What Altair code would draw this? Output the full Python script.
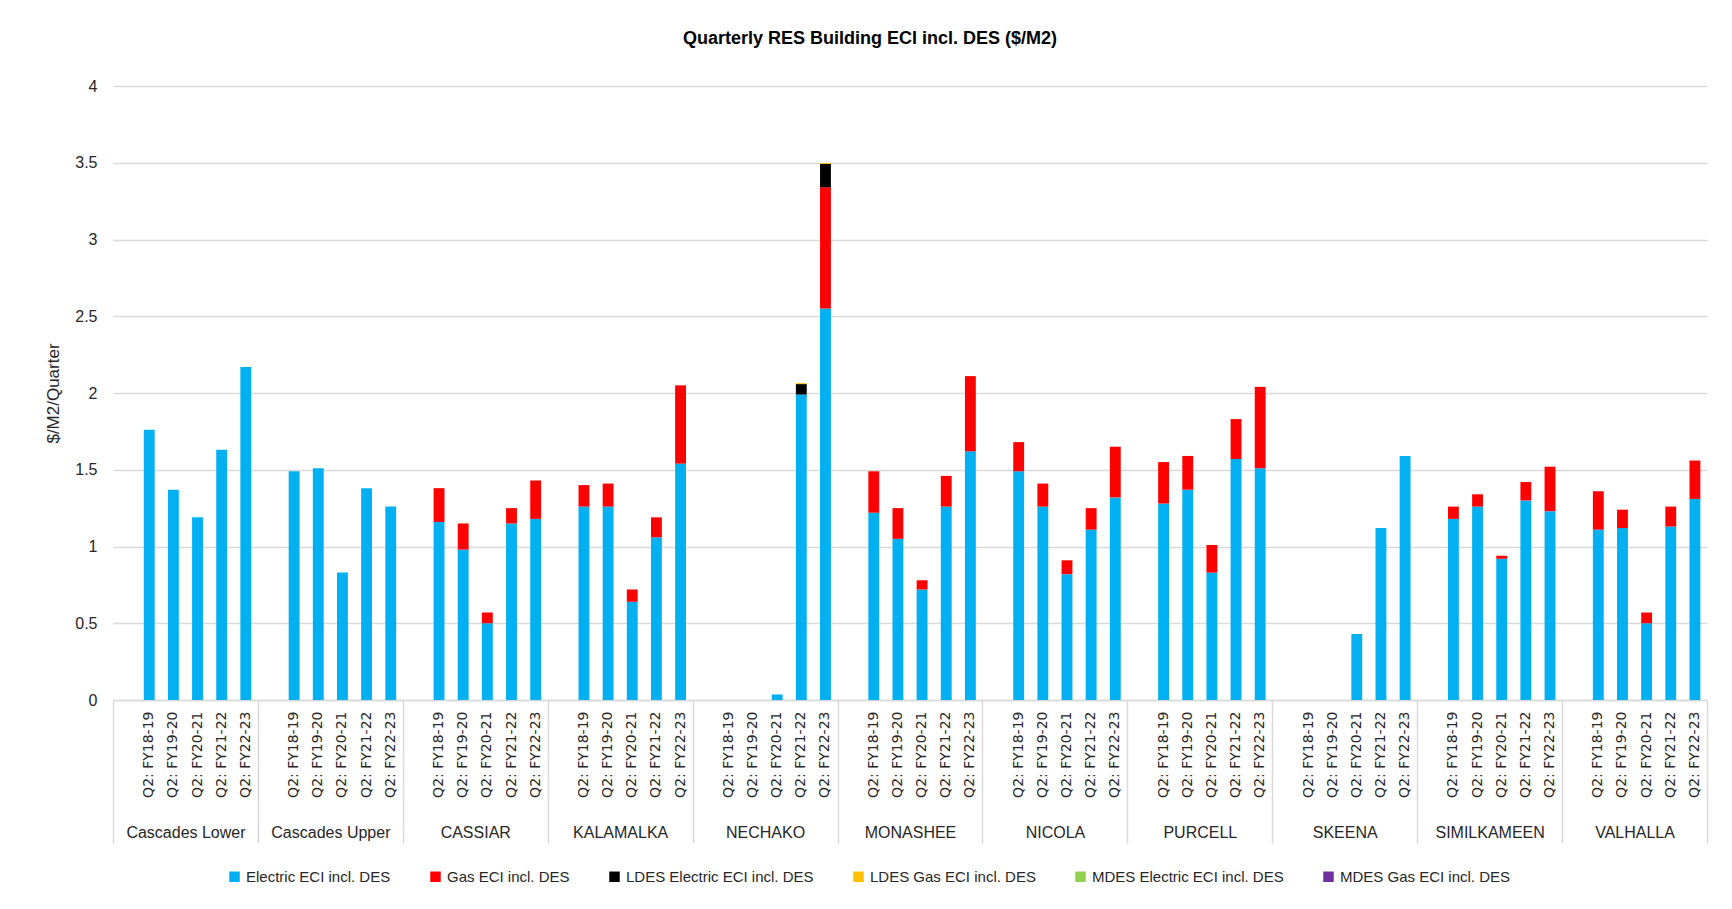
import altair as alt
import pandas as pd

groups = ["Cascades Lower", "Cascades Upper", "CASSIAR", "KALAMALKA", "NECHAKO",
          "MONASHEE", "NICOLA", "PURCELL", "SKEENA", "SIMILKAMEEN", "VALHALLA"]
quarters = ["Q2: FY18-19", "Q2: FY19-20", "Q2: FY20-21", "Q2: FY21-22", "Q2: FY22-23"]
series = ["Electric ECI incl. DES", "Gas ECI incl. DES", "LDES Electric ECI incl. DES",
          "LDES Gas ECI incl. DES", "MDES Electric ECI incl. DES", "MDES Gas ECI incl. DES"]
colors = ["#00B0F0", "#FF0000", "#000000", "#FFC000", "#92D050", "#7030A0"]

electric = {
    "Cascades Lower": [1.76, 1.37, 1.19, 1.63, 2.17],
    "Cascades Upper": [1.49, 1.51, 0.83, 1.38, 1.26],
    "CASSIAR":        [1.16, 0.98, 0.50, 1.15, 1.18],
    "KALAMALKA":      [1.26, 1.26, 0.64, 1.06, 1.54],
    "NECHAKO":        [0.0, 0.0, 0.036, 1.99, 2.55],
    "MONASHEE":       [1.22, 1.05, 0.72, 1.26, 1.62],
    "NICOLA":         [1.49, 1.26, 0.82, 1.11, 1.32],
    "PURCELL":        [1.28, 1.37, 0.83, 1.57, 1.51],
    "SKEENA":         [0.0, 0.0, 0.43, 1.12, 1.59],
    "SIMILKAMEEN":    [1.18, 1.26, 0.92, 1.30, 1.23],
    "VALHALLA":       [1.11, 1.12, 0.50, 1.13, 1.31],
}
gas = {
    "Cascades Lower": [0, 0, 0, 0, 0],
    "Cascades Upper": [0, 0, 0, 0, 0],
    "CASSIAR":        [0.22, 0.17, 0.07, 0.10, 0.25],
    "KALAMALKA":      [0.14, 0.15, 0.08, 0.13, 0.51],
    "NECHAKO":        [0, 0, 0, 0, 0.79],
    "MONASHEE":       [0.27, 0.20, 0.06, 0.20, 0.49],
    "NICOLA":         [0.19, 0.15, 0.09, 0.14, 0.33],
    "PURCELL":        [0.27, 0.22, 0.18, 0.26, 0.53],
    "SKEENA":         [0, 0, 0, 0, 0],
    "SIMILKAMEEN":    [0.08, 0.08, 0.02, 0.12, 0.29],
    "VALHALLA":       [0.25, 0.12, 0.07, 0.13, 0.25],
}
ldes_electric = {"NECHAKO": [0, 0, 0, 0.068, 0.152]}
ldes_gas = {"NECHAKO": [0, 0, 0, 0.006, 0.006]}
mdes_electric = {}
mdes_gas = {}

series_data = [electric, gas, ldes_electric, ldes_gas, mdes_electric, mdes_gas]

FONT = "Liberation Sans"
TXT = "#262626"
GRID = "#D9D9D9"

# x domain: one blank slot then the five quarters, per group
keys = []
for g in groups:
    keys.append(g + "|")
    for q in quarters:
        keys.append(g + "|" + q)

rows = []
for si, (s, d) in enumerate(zip(series, series_data)):
    for g in groups:
        vals = d.get(g, [0, 0, 0, 0, 0])
        for q, v in zip(quarters, vals):
            rows.append({"key": g + "|" + q, "group": g, "quarter": q,
                         "series": s, "order": si, "value": v})
df = pd.DataFrame(rows)

bars = alt.Chart(df).mark_bar(width={"band": 0.45}).encode(
    x=alt.X("key:N",
            scale=alt.Scale(domain=keys, paddingInner=0, paddingOuter=0),
            axis=alt.Axis(title=None, labelAngle=-90,
                          labelExpr="split(datum.value, '|')[1]",
                          labelFont="DejaVu Sans", labelFontSize=14, labelColor=TXT,
                          labelPadding=11, ticks=False,
                          domainColor=GRID, domainWidth=1.5, grid=False,
                          labelOverlap=False)),
    y=alt.Y("value:Q", stack="zero",
            scale=alt.Scale(domain=[0, 4]),
            axis=alt.Axis(title="$/M2/Quarter", values=[0, 0.5, 1, 1.5, 2, 2.5, 3, 3.5, 4],
                          format="~g", labelFont=FONT, labelFontSize=16, labelColor=TXT,
                          labelPadding=16, ticks=False, domain=False,
                          gridColor=GRID, gridWidth=1.5,
                          titleFont=FONT, titleFontSize=17, titleFontWeight="normal",
                          titleColor=TXT, titlePadding=12)),
    color=alt.Color("series:N",
                    scale=alt.Scale(domain=series, range=colors),
                    legend=alt.Legend(title=None, orient="none", legendX=114, legendY=783,
                                      direction="horizontal", columns=6,
                                      symbolType="square", symbolSize=110,
                                      symbolStrokeWidth=0, labelLimit=400,
                                      labelFont=FONT, labelFontSize=15, labelColor=TXT,
                                      labelOffset=4, columnPadding=37)),
    order=alt.Order("order:Q", sort="ascending"),
)

glabels = alt.Chart(pd.DataFrame({"group": groups})).mark_point(opacity=0, size=1).encode(
    x=alt.X("group:N",
            scale=alt.Scale(domain=groups, paddingInner=0, paddingOuter=0),
            axis=alt.Axis(title=None, orient="bottom", labelAngle=0,
                          ticks=True, tickBand="extent", tickSize=143,
                          tickColor=GRID, tickWidth=1.5,
                          domain=False, labelPadding=-19,
                          labelFont=FONT, labelFontSize=16, labelColor=TXT,
                          labelOverlap=False)),
)

chart = alt.layer(bars, glabels).resolve_scale(x="independent").properties(
    width=1594, height=614,
    title=alt.TitleParams("Quarterly RES Building ECI incl. DES ($/M2)",
                          font=FONT, fontSize=18, fontWeight="bold", color="#000000",
                          offset=30, dx=-40, anchor="middle"),
    padding={"left": 105, "top": 78, "right": 17, "bottom": 201},
    autosize=alt.AutoSizeParams(type="none"),
).configure_view(strokeWidth=0)

chart.save("out.html", embed_options={"renderer": "svg", "actions": False})
